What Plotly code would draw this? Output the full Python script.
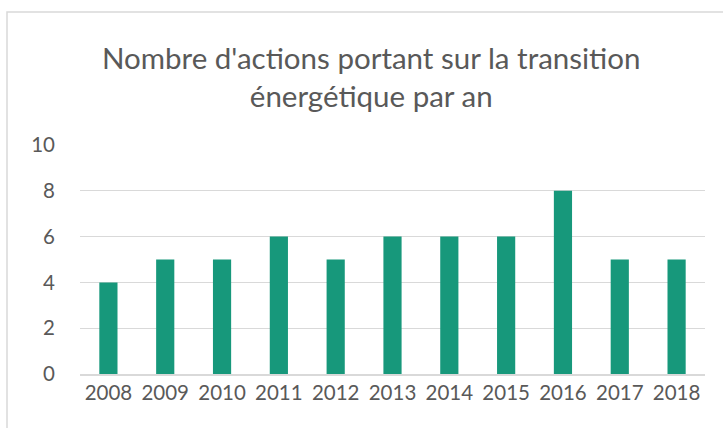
import plotly.graph_objects as go

years = ["2008", "2009", "2010", "2011", "2012", "2013", "2014", "2015", "2016", "2017", "2018"]
counts = [4, 5, 5, 6, 5, 6, 6, 6, 8, 5, 5]
y_ticks = [0, 2, 4, 6, 8, 10]
title_text = "Nombre d'actions portant sur la transition<br>énergétique par an"

W, H = 723, 428
L, R, T, B = 80, 18, 145, 54
pw, ph = W - L - R, H - T - B

def px(x):
    return (x - L) / pw

def py(y):
    return (H - B - y) / ph

fig = go.Figure(go.Bar(
    x=years, y=counts,
    marker=dict(color="#17987B", line=dict(width=0)),
))

fig.update_layout(
    width=W, height=H,
    margin=dict(l=L, r=R, t=T, b=B),
    paper_bgcolor="white", plot_bgcolor="white",
    bargap=0.68,
    showlegend=False,
    font=dict(family="Lato, Open Sans, sans-serif", color="#595959"),
    xaxis=dict(
        type="category", showgrid=False, ticks="", showline=True,
        linecolor="#d9d9d9", linewidth=1.5,
        tickfont=dict(size=20.5, color="#595959"),
    ),
    yaxis=dict(
        range=[0, 10], tickvals=y_ticks, showgrid=True,
        gridcolor="#d9d9d9", gridwidth=1.2, zeroline=False,
        showline=False, ticks="", ticklabelstandoff=24,
        tickfont=dict(size=20.5, color="#595959"),
    ),
    annotations=[dict(
        text=title_text, xref="paper", yref="paper",
        x=px(371), y=py(38), xanchor="center", yanchor="top",
        showarrow=False, align="center",
        font=dict(size=29.5, color="#595959"),
    )],
    shapes=[dict(
        type="rect", xref="paper", yref="paper",
        x0=px(7), x1=px(740), y0=py(440), y1=py(12),
        line=dict(color="#d9d9d9", width=1.5), fillcolor="rgba(0,0,0,0)",
        layer="below",
    )],
)

fig.write_html(
    "out.html",
    config={"displayModeBar": False},
    post_script="document.body.style.margin='0';document.body.style.overflow='hidden';",
)
